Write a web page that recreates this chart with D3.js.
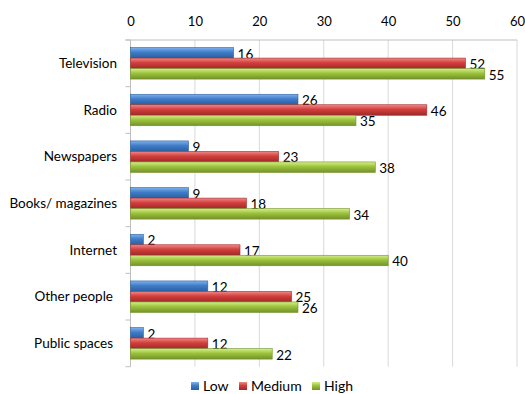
<!DOCTYPE html>
<html lang="en">
<head>
    <meta charset="UTF-8">
    <title>Bar chart</title>
    <script src="https://cdn.jsdelivr.net/npm/d3@7"></script>
    <style>
        body { margin: 0; background: #fff; }
        svg { font-family: Lato, "Open Sans", sans-serif; }
    </style>
</head>
<body>
    <script>
        let width = 525,
            height = 394;

        // data
        let categories = ['Television', 'Radio', 'Newspapers', 'Books/ magazines', 'Internet', 'Other people', 'Public spaces'];
        let series = ['Low', 'Medium', 'High'];
        let low = [16, 26, 9, 9, 2, 12, 2];
        let medium = [52, 46, 23, 18, 17, 25, 12];
        let high = [55, 35, 38, 34, 40, 26, 22];
        let xTicks = [0, 10, 20, 30, 40, 50, 60];

        let values = [low, medium, high];
        let colors = {
            Low: ['#7fb2ec', '#3f7cc9', '#2c5f9e'],
            Medium: ['#f08a88', '#d23e3c', '#9f2a28'],
            High: ['#d4f08a', '#9cc23c', '#73922a']
        };

        let plot = { left: 130.5, right: 517, top: 40, bottom: 366.7 };

        let svg = d3.select('body')
                    .append('svg')
                    .attr('width', width)
                    .attr('height', height);

        let x = d3.scaleLinear().domain([0, 60]).range([plot.left, plot.right]);
        let y = d3.scaleBand().domain(categories).range([plot.top, plot.bottom]);
        let ySub = d3.scaleBand().domain(series).range([0, 31.5]);
        let barOffset = (y.bandwidth() - 31.5) / 2;

        // gradients for the glossy bars
        let defs = svg.append('defs');
        series.forEach(s => {
            let grad = defs.append('linearGradient')
                           .attr('id', 'g-' + s)
                           .attr('x1', 0).attr('y1', 0).attr('x2', 0).attr('y2', 1);
            grad.append('stop').attr('offset', '0%').attr('stop-color', colors[s][0]);
            grad.append('stop').attr('offset', '45%').attr('stop-color', colors[s][1]);
            grad.append('stop').attr('offset', '100%').attr('stop-color', colors[s][2]);
        });

        // gridlines
        svg.append('g')
           .selectAll('line')
           .data(xTicks)
           .enter()
           .append('line')
           .attr('x1', d => x(d)).attr('x2', d => x(d))
           .attr('y1', plot.top).attr('y2', plot.bottom)
           .attr('stroke', d => d === 0 ? '#bfbfbf' : '#d9d9d9')
           .attr('stroke-width', 1);

        // top axis
        let xAxis = d3.axisTop(x).tickValues(xTicks).tickSize(0).tickPadding(14);
        let gx = svg.append('g')
                    .attr('transform', `translate(0, ${plot.top})`)
                    .call(xAxis);
        gx.select('.domain').remove();
        gx.selectAll('text').attr('font-size', 13).attr('fill', '#000').style('font-family', 'Lato, sans-serif');
        svg.append('line')
           .attr('x1', plot.left - 5).attr('x2', plot.right)
           .attr('y1', plot.top).attr('y2', plot.top)
           .attr('stroke', '#bfbfbf');

        // left category ticks
        let boundaries = categories.map(c => y(c)).concat([plot.bottom]);
        svg.append('g')
           .selectAll('line')
           .data(boundaries)
           .enter()
           .append('line')
           .attr('x1', plot.left - 5).attr('x2', plot.left)
           .attr('y1', d => d).attr('y2', d => d)
           .attr('stroke', '#bfbfbf');

        // category labels
        svg.append('g')
           .selectAll('text')
           .data(categories)
           .enter()
           .append('text')
           .attr('x', d => d === 'Other people' || d === 'Public spaces' ? 113 : 117)
           .attr('y', d => y(d) + y.bandwidth() / 2)
           .attr('dy', '0.35em')
           .attr('text-anchor', 'end')
           .attr('font-size', 13.5)
           .text(d => d);

        // bars
        let rows = [];
        categories.forEach((c, i) => {
            series.forEach((s, j) => rows.push({ cat: c, s: s, v: values[j][i] }));
        });

        let bars = svg.append('g')
                      .selectAll('g')
                      .data(rows)
                      .enter()
                      .append('g')
                      .attr('transform', d => `translate(0, ${y(d.cat) + barOffset + ySub(d.s)})`);

        bars.append('rect')
            .attr('x', x(0))
            .attr('y', 0)
            .attr('width', d => x(d.v) - x(0))
            .attr('height', ySub.bandwidth())
            .attr('fill', d => `url(#g-${d.s})`)
            .attr('stroke', d => colors[d.s][2])
            .attr('stroke-width', 0.6);

        bars.append('text')
            .attr('x', d => x(d.v) + 4)
            .attr('y', ySub.bandwidth() / 2 + 1)
            .attr('dy', '0.35em')
            .attr('font-size', 13.5)
            .text(d => d.v);

        // legend
        let legendX = [191, 239, 312];
        let legend = svg.append('g')
                        .selectAll('g')
                        .data(series)
                        .enter()
                        .append('g')
                        .attr('transform', (d, i) => `translate(${legendX[i]}, 382)`);
        legend.append('rect')
              .attr('width', 8).attr('height', 8)
              .attr('fill', d => `url(#g-${d})`);
        legend.append('text')
              .attr('x', 12).attr('y', 4)
              .attr('dy', '0.35em')
              .attr('font-size', 14)
              .text(d => d);
    </script>
</body>
</html>
